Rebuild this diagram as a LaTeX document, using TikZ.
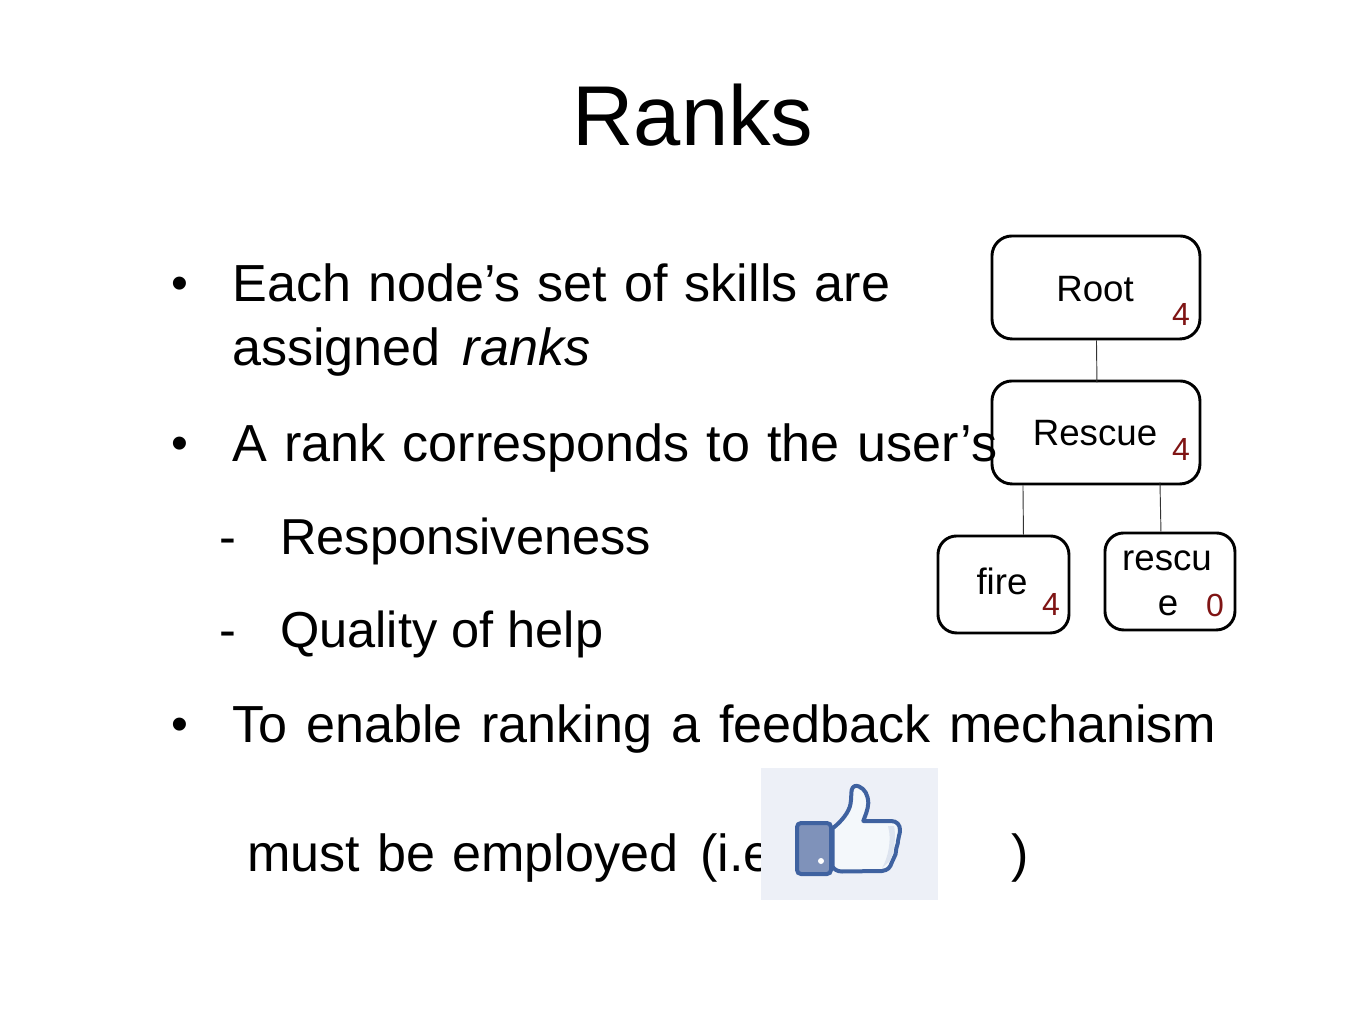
\documentclass[tikz,border=0pt]{standalone}
\usepackage{fontspec}
\setmainfont{Liberation Sans}
\usetikzlibrary{calc}
\definecolor{rankred}{HTML}{7F1414}
\definecolor{thumbbg}{HTML}{EDF0F7}
\definecolor{thumbblue}{HTML}{3F62A0}
\definecolor{thumbcuff}{HTML}{7F92BA}
\definecolor{thumbhand}{HTML}{F4F8FB}
\tikzset{
  x=0.75pt,y=-0.75pt,
  treebox/.style={draw=black,line width=2.2pt,rounded corners=15pt,fill=white,inner sep=0pt,anchor=north west},
  treelink/.style={draw=black!80,line width=0.7pt},
  body/.style={anchor=base west,inner sep=0pt,font=\fontsize{37.9pt}{37.9pt}\selectfont},
  bodyfit/.style={anchor=base west,inner sep=0pt,font=\fontsize{39.1pt}{39.1pt}\selectfont},
  bulletmark/.style={anchor=base west,inner sep=0pt,font=\fontsize{36pt}{36pt}\selectfont},
  treelabel/.style={anchor=base,inner sep=0pt,font=\fontsize{27.5pt}{27.5pt}\selectfont},
  ranklabel/.style={anchor=base,inner sep=0pt,text=rankred,font=\fontsize{24pt}{24pt}\selectfont},
}
\newcommand{\fitline}[2]{\makebox[\dimexpr #1pt*3/4\relax][s]{#2}}
\begin{document}
\begin{tikzpicture}
\useasboundingbox (0,0) rectangle (1365,1024);
\fill[white] (0,0) rectangle (1365,1024);
\node[anchor=base,inner sep=0pt,font=\fontsize{63.7pt}{63.7pt}\selectfont] (title) at (693,146) {Ranks};

% tree boxes
\node[treebox,minimum width=208*0.75pt,minimum height=103*0.75pt] (root) at (990.5,234.5) {};
\node[treebox,minimum width=208*0.75pt,minimum height=103*0.75pt] (rescue) at (990.5,379.5) {};
\node[treebox,minimum width=131*0.75pt,minimum height=97*0.75pt,rounded corners=14pt] (fire) at (936.5,534.5) {};
\node[treebox,minimum width=130*0.75pt,minimum height=97*0.75pt,rounded corners=14pt] (skill) at (1103.5,531.5) {};
\draw[treelink] ([xshift=0.5*0.75pt]root.south) -- ([xshift=1*0.75pt,yshift=-3*0.75pt]rescue.north);
\draw[treelink] ([xshift=-73*0.75pt]rescue.south) -- ([xshift=20*0.75pt]fire.north);
\draw[treelink] ([xshift=64*0.75pt,yshift=3*0.75pt]rescue.south) -- ([xshift=-9*0.75pt]skill.north);

% bullets and text
\node[bulletmark] (b1) at (171,299) {•};
\node[bodyfit] (t1) at (232,301) {\fitline{658}{Each node’s set of skills are}};
\node[bodyfit] (t2) at (232,365) {\fitline{358}{assigned \textit{ranks}}};
\node[bulletmark] (b2) at (171,459) {•};
\node[bodyfit] (t3) at (232,461) {\fitline{765}{A rank corresponds to the user’s}};
\node[body] (d1) at (219,554) {-};
\node[body] (t4) at (280,554) {\fitline{372}{Responsiveness}};
\node[body] (d2) at (219,647) {-};
\node[body] (t5) at (280,647) {Quality of help};
\node[bulletmark] (b3) at (171,740) {•};
\node[bodyfit] (t6) at (232,742) {\fitline{984}{To enable ranking a feedback mechanism}};
\node[bodyfit] (t7) at (247,871) {\fitline{431}{must be employed}};
\node[bodyfit] (t8) at (700,871) {(i.e.};
\node[bodyfit] (t9) at (1011,871) {)};

% tree labels
\node[treelabel] (l1) at (1095,301) {Root};
\node[treelabel] (l2) at (1095,445) {Rescue};
\node[treelabel] (l3) at (1002,594) {fire};
\node[treelabel] (l4) at (1167,570) {rescu};
\node[treelabel] (l5) at (1168,615) {e};
\node[ranklabel] (r1) at (1181,325) {4};
\node[ranklabel] (r2) at (1181,460) {4};
\node[ranklabel] (r3) at (1051,615) {4};
\node[ranklabel] (r4) at (1215,616) {0};

% thumbs-up picture
\fill[thumbbg] (761,768) rectangle (938,900);
\draw[thumbblue,line width=3pt,fill=thumbhand,line join=round]
  (832.7,828.3) .. controls (842,821) and (849,812) .. (850.5,804)
  .. controls (851.5,798) and (851,794) .. (851.7,790)
  .. controls (852.5,786) and (856,785) .. (859,786.5)
  .. controls (865,789) and (868,795) .. (868.3,803)
  .. controls (868,810) and (865,816) .. (863.3,821)
  -- (891,821) .. controls (897,821) and (900,825) .. (900,830)
  .. controls (900,835) and (898,837) .. (898,841)
  .. controls (898,845) and (896,847) .. (896,851)
  .. controls (896,856) and (893,858) .. (892,862)
  .. controls (890,868) and (888,870) .. (882,871)
  -- (842,871.5) .. controls (837,871.5) and (834,869) .. (832.7,866.7) -- cycle;
\fill[thumbblue!25,opacity=.6] (888,826) .. controls (892,840) and (888,858) .. (882,868) -- (890,861) .. controls (895,850) and (896,835) .. (894,826) -- cycle;
\draw[thumbblue,line width=3pt,fill=thumbcuff,rounded corners=3pt] (797,823) rectangle (831,874);
\fill[white] (821,861) circle (3);
\end{tikzpicture}
\end{document}
